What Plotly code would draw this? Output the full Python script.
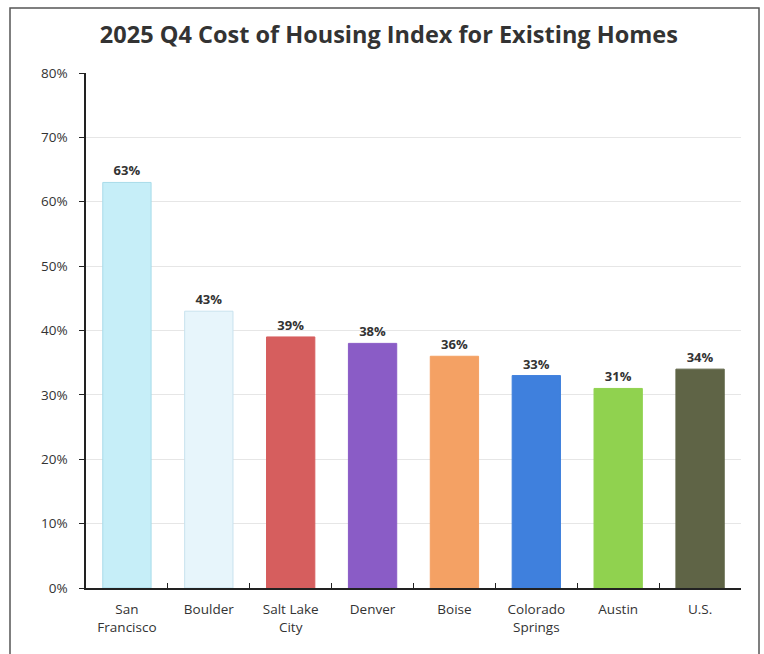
import plotly.graph_objects as go

categories = ["San<br>Francisco", "Boulder", "Salt Lake<br>City", "Denver", "Boise",
              "Colorado<br>Springs", "Austin", "U.S."]
values = [0.63, 0.43, 0.39, 0.38, 0.36, 0.33, 0.31, 0.34]
labels = ["63%", "43%", "39%", "38%", "36%", "33%", "31%", "34%"]
colors = ["#c6eef8", "#e7f5fb", "#d65e5e", "#8a5cc6", "#f4a164", "#3f80dd", "#90d24f", "#5f6446"]
line_colors = ["#a8dbe9", "#c8e2ee", "#d65e5e", "#8a5cc6", "#f4a164", "#3f80dd", "#90d24f", "#5f6446"]

fig = go.Figure(go.Bar(
    x=categories, y=values, text=labels, textposition="outside",
    marker=dict(color=colors, line=dict(color=line_colors, width=1)),
    textfont=dict(family="Open Sans", size=13, color="#333333", weight="bold"),
    cliponaxis=False,
))

fig.update_layout(
    width=764, height=654,
    paper_bgcolor="white", plot_bgcolor="white",
    margin=dict(l=86, r=23, t=73, b=66),
    bargap=0.41,
    showlegend=False,
    title=dict(text="<b>2025 Q4 Cost of Housing Index for Existing Homes</b>",
               x=0.509, xanchor="center", y=0.947, yanchor="middle",
               font=dict(family="Open Sans", size=23.5, color="#333333")),
    font=dict(family="Open Sans", color="#333333"),
)
fig.update_yaxes(range=[0, 0.8], dtick=0.1, tickformat=".0%",
                 showline=True, linecolor="#222222", linewidth=1.5,
                 ticks="outside", ticklen=5, tickcolor="#222222",
                 showgrid=True, gridcolor="#e6e6e6", gridwidth=1,
                 ticklabelstandoff=9,
                 tickfont=dict(size=13.5, color="#333333"), zeroline=False)
fig.update_xaxes(showline=True, linecolor="#222222", linewidth=1.5,
                 ticks="inside", ticklen=5, tickcolor="#222222", tickson="boundaries",
                 ticklabelstandoff=8,
                 tickfont=dict(size=13.5, color="#333333"))

fig.add_shape(type="rect", xref="paper", yref="paper",
              x0=(10 - 86) / 655, x1=(759 - 86) / 655,
              y0=(66 - 652) / 515, y1=(654 - 66 - 8) / 515,
              line=dict(color="#555555", width=1.5), fillcolor="rgba(0,0,0,0)", layer="below")

fig.write_html("out.html", config={"displayModeBar": False},
               post_script="document.body.style.margin='0';")
